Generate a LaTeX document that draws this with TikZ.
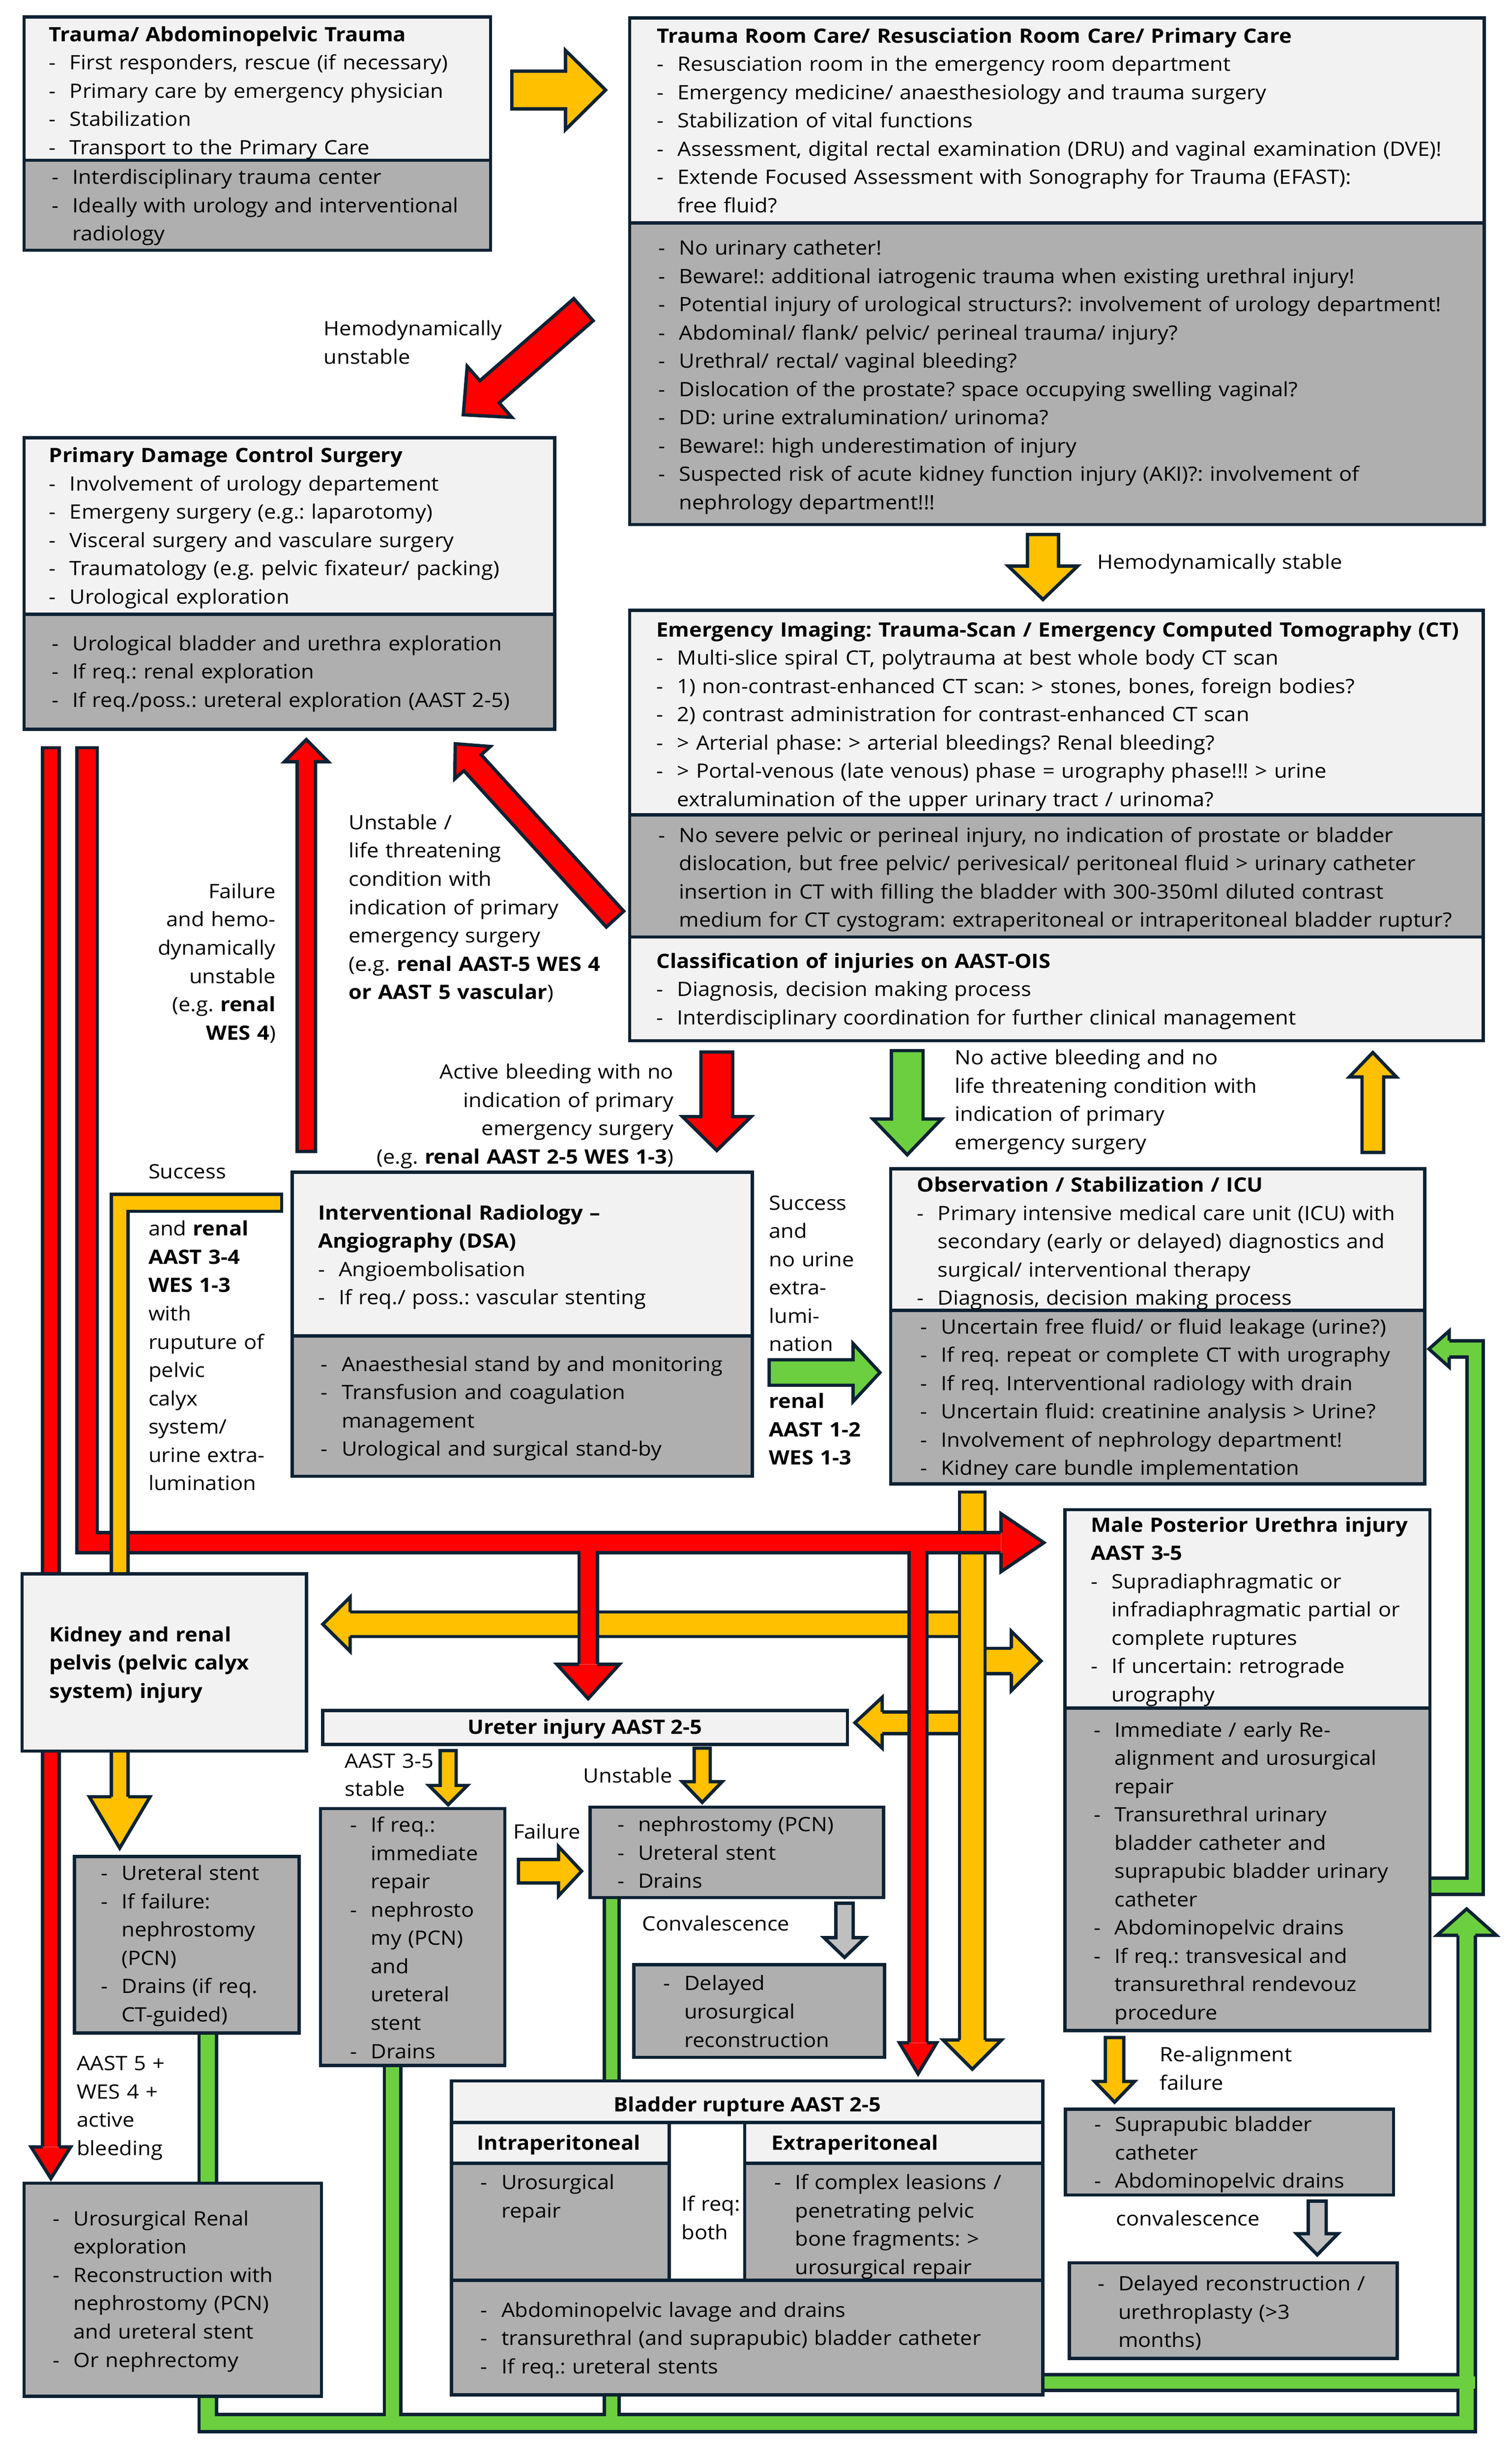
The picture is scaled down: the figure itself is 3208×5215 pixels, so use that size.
\documentclass[tikz,border=0pt]{standalone}
\usepackage{fontspec}
\setmainfont{Open Sans}[FakeStretch=1.08]
\usetikzlibrary{calc,fit}
\definecolor{nv}{HTML}{0D2233}
\definecolor{lg}{HTML}{F2F2F2}
\definecolor{dg}{HTML}{AFAFAF}
\definecolor{rd}{HTML}{FF0000}
\definecolor{yl}{HTML}{FFC000}
\definecolor{gn}{HTML}{6CCF3F}
\definecolor{ga}{HTML}{BFBFBF}
\newcommand\myfs{\fontsize{10.5}{15}\selectfont\frenchspacing}
\newcommand\Di[1]{\hangindent=11pt\hangafter=1\noindent\makebox[11pt][l]{-}#1\par}
\newcommand\Ti[1]{\textbf{#1}\par}
% block arrow: colour, tail, tip, half shaft, half head, head length
\newcommand\barrow[6]{%
  \coordinate (bH) at ($#3!#6!#2$);
  \filldraw[fill=#1,draw=nv,line width=1.75pt,line join=miter]
    ($#2!#4!90:#3$) -- ($(bH)!#4!90:#3$) -- ($(bH)!#5!90:#3$) -- #3
    -- ($(bH)!#5!-90:#3$) -- ($(bH)!#4!-90:#3$) -- ($#2!#4!-90:#3$) -- cycle;}
% arrow head on a pipe: colour, base, tip, half shaft, half head
\newcommand\ahead[5]{%
  \fill[#1] ($#2!#4!90:#3$) -- ($#2!#5!90:#3$) -- #3 -- ($#2!#5!-90:#3$) -- ($#2!#4!-90:#3$) -- cycle;
  \draw[nv,line width=1.75pt,line join=miter] ($#2!#4!90:#3$) -- ($#2!#5!90:#3$) -- #3 -- ($#2!#5!-90:#3$) -- ($#2!#4!-90:#3$);}
\tikzset{
  sec/.style={draw=nv,line width=1.75pt,inner sep=0pt,outer sep=0pt},
  lt/.style={sec,fill=lg}, dk/.style={sec,fill=dg}, wt/.style={sec,fill=white},
  tx/.style={anchor=base west,inner sep=0pt,outer sep=0pt,text width=#1,align=left,font=\myfs},
  tx/.default=330pt,
  tr/.style={anchor=base east,inner sep=0pt,outer sep=0pt,text width=#1,align=right,font=\myfs},
  tc/.style={anchor=base,inner sep=0pt,outer sep=0pt,font=\myfs\bfseries},
  blk/.style={draw=nv,line join=miter,line cap=butt},
  pcol/.style={draw=#1,line join=miter,line cap=butt},
}
\begin{document}
\begin{tikzpicture}[x=0.25pt,y=-0.25pt]
\fill[white] (0,0) rectangle (3208,5215);
\useasboundingbox (0,0) rectangle (3208,5215);
% ---------- named coordinates ----------
\coordinate (a1s) at (1086,191);  \coordinate (a1e) at (1285,191);
\coordinate (a2s) at (1238,657);  \coordinate (a2e) at (983,880);
\coordinate (a3s) at (2213,1134); \coordinate (a3e) at (2213,1272);
\coordinate (a4s) at (650,2443);  \coordinate (a4e) at (650,1569);
\coordinate (a5s) at (1305,1950); \coordinate (a5e) at (966,1578);
\coordinate (a6s) at (1521,2232); \coordinate (a6e) at (1521,2441);
\coordinate (a7s) at (1925,2229); \coordinate (a7e) at (1925,2450);
\coordinate (a8s) at (2913,2445); \coordinate (a8e) at (2913,2233);
\coordinate (a9s) at (1632,2912); \coordinate (a9e) at (1867,2912);
\coordinate (s1s) at (951,3714);  \coordinate (s1e) at (951,3829);
\coordinate (s2s) at (1490,3709); \coordinate (s2e) at (1490,3824);
\coordinate (s3s) at (1100,3970); \coordinate (s3e) at (1234,3970);
\coordinate (s4s) at (2365,4323); \coordinate (s4e) at (2365,4460);
\coordinate (c1s) at (1792,4038); \coordinate (c1e) at (1792,4153);
\coordinate (c2s) at (2795,4670); \coordinate (c2e) at (2795,4784);
\coordinate (yv0) at (2063,3169); \coordinate (yv1) at (2063,4328); \coordinate (yv2) at (2063,4390);
\coordinate (ya0) at (2063,3446); \coordinate (ya1) at (743,3446);  \coordinate (ya2) at (685,3446);
\coordinate (yb0) at (2063,3655); \coordinate (yb1) at (1872,3655); \coordinate (yb2) at (1814,3655);
\coordinate (yc0) at (2063,3524); \coordinate (yc1) at (2146,3524); \coordinate (yc2) at (2209,3524);
\coordinate (r0) at (185,1590);   \coordinate (r1) at (185,3273);   \coordinate (r2) at (2124,3273); \coordinate (r3) at (2215,3273);
\coordinate (ra0) at (1248,3273); \coordinate (ra1) at (1248,3531); \coordinate (ra2) at (1248,3604);
\coordinate (rb0) at (1948,3273); \coordinate (rb1) at (1948,4334); \coordinate (rb2) at (1948,4400);
\coordinate (rc0) at (108,1590);  \coordinate (rc1) at (108,4555);  \coordinate (rc2) at (108,4622);
\coordinate (yl0) at (594,2552);  \coordinate (yl1) at (254,2552);  \coordinate (yl2) at (254,3812); \coordinate (yl3) at (254,3921);
\coordinate (g0) at (441,4313);   \coordinate (g1) at (441,5141);   \coordinate (g2) at (3112,5141); \coordinate (g3) at (3112,4106); \coordinate (g4) at (3112,4050);
\coordinate (g5a) at (833,4382);  \coordinate (g5b) at (833,5141);
\coordinate (g6a) at (1298,4026); \coordinate (g6b) at (1298,5141);
\coordinate (g7a) at (2213,5055); \coordinate (g7b) at (3130,5055);
\coordinate (gl0) at (3034,4002); \coordinate (gl1) at (3130,4002); \coordinate (gl2) at (3130,2862); \coordinate (gl3) at (3075,2862); \coordinate (gl4) at (3032,2862);
% ---------- block arrows ----------
\barrow{yl}{(a1s)}{(a1e)}{10pt}{21pt}{21.25pt}
\barrow{rd}{(a2s)}{(a2e)}{7.8pt}{18pt}{18.5pt}
\barrow{yl}{(a3s)}{(a3e)}{8.25pt}{18.4pt}{17.75pt}
\barrow{rd}{(a4s)}{(a4e)}{4.9pt}{11.6pt}{11.75pt}
\barrow{rd}{(a5s)}{(a5e)}{6.25pt}{12.8pt}{13.6pt}
\barrow{rd}{(a6s)}{(a6e)}{8.4pt}{18.25pt}{18pt}
\barrow{gn}{(a7s)}{(a7e)}{8.4pt}{18.25pt}{19pt}
\barrow{yl}{(a8s)}{(a8e)}{5.75pt}{12.5pt}{13pt}
\barrow{gn}{(a9s)}{(a9e)}{6.75pt}{15.4pt}{14.25pt}
\barrow{yl}{(s1s)}{(s1e)}{4.25pt}{10.25pt}{10.25pt}
\barrow{yl}{(s2s)}{(s2e)}{4.25pt}{10.6pt}{11pt}
\barrow{yl}{(s3s)}{(s3e)}{6.25pt}{13.1pt}{12.25pt}
\barrow{yl}{(s4s)}{(s4e)}{4.9pt}{10.6pt}{11pt}
\barrow{ga}{(c1s)}{(c1e)}{4.6pt}{10.9pt}{10.5pt}
\barrow{ga}{(c2s)}{(c2e)}{4.75pt}{11pt}{11.25pt}
% ---------- yellow distribution pipes ----------
\draw[blk,line width=14.75pt] (ya0) -- (ya1);
\draw[pcol=yl,line width=11.25pt] (ya0) -- (ya1);
\ahead{yl}{(ya1)}{(ya2)}{6.5pt}{14.4pt}
\draw[blk,line width=13.25pt] (yb0) -- (yb1);
\draw[pcol=yl,line width=9.75pt] (yb0) -- (yb1);
\ahead{yl}{(yb1)}{(yb2)}{5.75pt}{13.5pt}
\draw[blk,line width=15.25pt] (yc0) -- (yc1);
\draw[pcol=yl,line width=11.75pt] (yc0) -- (yc1);
\ahead{yl}{(yc1)}{(yc2)}{6.75pt}{15.75pt}
\draw[blk,line width=15.25pt,shorten <=-1.75pt] (yv0) -- (yv1);
\draw[pcol=yl,line width=11.75pt] (yv0) -- (yv1);
\ahead{yl}{(yv1)}{(yv2)}{6.75pt}{15.5pt}
% ---------- red pipes ----------
\draw[blk,line width=12.5pt,shorten <=-1.75pt] (r0) -- (r1) -- (r2);
\draw[blk,line width=11.5pt] (ra0) -- (ra1);
\draw[blk,line width=11.25pt] (rb0) -- (rb1);
\draw[pcol=rd,line width=9pt] (r0) -- (r1) -- (r2);
\draw[pcol=rd,line width=8pt] (ra0) -- (ra1);
\draw[pcol=rd,line width=7.75pt] (rb0) -- (rb1);
\ahead{rd}{(r2)}{(r3)}{5.4pt}{15.4pt}
\ahead{rd}{(ra1)}{(ra2)}{4.9pt}{16.6pt}
\ahead{rd}{(rb1)}{(rb2)}{4.75pt}{9.9pt}
\draw[blk,line width=10.5pt,shorten <=-1.75pt] (rc0) -- (rc1);
\draw[pcol=rd,line width=7pt] (rc0) -- (rc1);
\ahead{rd}{(rc1)}{(rc2)}{4.4pt}{10.5pt}
% ---------- yellow L from interventional radiology ----------
\draw[blk,line width=10.75pt,shorten <=-1.75pt] (yl0) -- (yl1) -- (yl2);
\draw[pcol=yl,line width=7.25pt] (yl0) -- (yl1) -- (yl2);
\ahead{yl}{(yl2)}{(yl3)}{4.5pt}{16.1pt}
% ---------- green return pipes ----------
\draw[blk,line width=11pt] (g0) -- (g1) -- (g2) -- (g3);
\draw[blk,line width=10.5pt] (g5a) -- (g5b);
\draw[blk,line width=9.5pt] (g6a) -- (g6b);
\draw[blk,line width=10pt] (g7a) -- (g7b);
\draw[pcol=gn,line width=7.5pt] (g0) -- (g1) -- (g2) -- (g3);
\draw[pcol=gn,line width=7pt] (g5a) -- (g5b);
\draw[pcol=gn,line width=6pt] (g6a) -- (g6b);
\draw[pcol=gn,line width=6.5pt] (g7a) -- (g7b);
\ahead{gn}{(g3)}{(g4)}{4.6pt}{15.75pt}
\draw[blk,line width=10.5pt] (gl0) -- (gl1) -- (gl2) -- (gl3);
\draw[pcol=gn,line width=7pt] (gl0) -- (gl1) -- (gl2) -- (gl3);
\ahead{gn}{(gl3)}{(gl4)}{4.4pt}{9.6pt}
% ---------- boxes ----------
\node[lt,fit={(51,36) (1041,340)}] (b1a) {};
\node[dk,fit={(51,340) (1041,531)}] (b1b) {};
\node[lt,fit={(1336,38) (3149,473)}] (b2a) {};
\node[dk,fit={(1336,473) (3149,1113)}] (b2b) {};
\node[lt,fit={(51,929) (1177,1303)}] (b3a) {};
\node[dk,fit={(51,1303) (1177,1547)}] (b3b) {};
\node[lt,fit={(1336,1295) (3147,1729)}] (b4a) {};
\node[dk,fit={(1336,1729) (3147,1988)}] (b4b) {};
\node[lt,fit={(1336,1988) (3147,2208)}] (b4c) {};
\node[lt,fit={(620,2487) (1596,2834)}] (b5a) {};
\node[dk,fit={(620,2834) (1596,3132)}] (b5b) {};
\node[lt,fit={(1890,2480) (3023,2780)}] (b6a) {};
\node[dk,fit={(1890,2780) (3023,3148)}] (b6b) {};
\node[lt,fit={(47,3339) (650,3715)}] (b7) {};
\node[lt,fit={(685,3629) (1798,3701)}] (b8) {};
\node[dk,fit={(158,3939) (635,4313)}] (b9) {};
\node[dk,fit={(680,3837) (1071,4382)}] (b10) {};
\node[dk,fit={(1252,3834) (1875,4026)}] (b11) {};
\node[dk,fit={(1345,4168) (1877,4365)}] (b12) {};
\node[lt,fit={(2260,3203) (3034,3624)}] (b13a) {};
\node[dk,fit={(2260,3624) (3034,4308)}] (b13b) {};
\node[dk,fit={(2261,4475) (2957,4657)}] (b14) {};
\node[dk,fit={(2269,4801) (2965,5004)}] (b15) {};
\node[dk,fit={(51,4632) (682,5084)}] (b16) {};
\node[lt,fit={(958,4415) (2213,4503)}] (b17t) {};
\node[lt,fit={(958,4503) (1420,4590)}] (b17i) {};
\node[wt,fit={(1420,4503) (1580,4838)}] (b17m) {};
\node[lt,fit={(1580,4503) (2213,4590)}] (b17e) {};
\node[dk,fit={(958,4590) (1420,4838)}] (b17ig) {};
\node[dk,fit={(1580,4590) (2213,4838)}] (b17eg) {};
\node[dk,fit={(958,4838) (2213,5081)}] (b17b) {};
% ---------- box texts ----------
\node[tx] (t1a) at (104,88) {\Ti{Trauma/ Abdominopelvic Trauma}\Di{First responders, rescue (if necessary)}\Di{Primary care by emergency physician}\Di{Stabilization}\Di{Transport to the Primary Care}};
\node[tx] (t1b) at (110,391) {\Di{Interdisciplinary trauma center}\Di{Ideally with urology and interventional\newline radiology}};
\node[tx=440pt] (t2a) at (1394,91) {\Ti{Trauma Room Care/ Resusciation Room Care/ Primary Care}\Di{Resusciation room in the emergency room department}\Di{Emergency medicine/ anaesthesiology and trauma surgery}\Di{Stabilization of vital functions}\Di{Assessment, digital rectal examination (DRU) and vaginal examination (DVE)!}\Di{Extende Focused Assessment with Sonography for Trauma (EFAST):\newline free fluid?}};
\node[tx=440pt] (t2b) at (1397,541) {\Di{No urinary catheter!}\Di{Beware!: additional iatrogenic trauma when existing urethral injury!}\Di{Potential injury of urological structurs?: involvement of urology department!}\Di{Abdominal/ flank/ pelvic/ perineal trauma/ injury?}\Di{Urethral/ rectal/ vaginal bleeding?}\Di{Dislocation of the prostate? space occupying swelling vaginal?}\Di{DD: urine extralumination/ urinoma?}\Di{Beware!: high underestimation of injury}\Di{Suspected risk of acute kidney function injury (AKI)?: involvement of\newline nephrology department!!!}};
\node[tx] (t3a) at (104,981) {\Ti{Primary Damage Control Surgery}\Di{Involvement of urology departement}\Di{Emergeny surgery (e.g.: laparotomy)}\Di{Visceral surgery and vasculare surgery}\Di{Traumatology (e.g. pelvic fixateur/ packing)}\Di{Urological exploration}};
\node[tx] (t3b) at (110,1380) {\Di{Urological bladder and urethra exploration}\Di{If req.: renal exploration}\Di{If req./poss.: ureteral exploration (AAST 2-5)}};
\node[tx=440pt] (t4a) at (1393,1351) {\Ti{Emergency Imaging: Trauma-Scan / Emergency Computed Tomography (CT)}\Di{Multi-slice spiral CT, polytrauma at best whole body CT scan}\Di{1) non-contrast-enhanced CT scan: > stones, bones, foreign bodies?}\Di{2) contrast administration for contrast-enhanced CT scan}\Di{> Arterial phase: > arterial bleedings? Renal bleeding?}\Di{> Portal-venous (late venous) phase = urography phase!!! > urine\newline extralumination of the upper urinary tract / urinoma?}};
\node[tx=440pt] (t4b) at (1397,1787) {\Di{No severe pelvic or perineal injury, no indication of prostate or bladder\newline dislocation, but free pelvic/ perivesical/ peritoneal fluid > urinary catheter\newline insertion in CT with filling the bladder with 300-350ml diluted contrast\newline medium for CT cystogram: extraperitoneal or intraperitoneal bladder ruptur?}};
\node[tx=440pt] (t4c) at (1393,2054) {\Ti{Classification of injuries on AAST-OIS}\Di{Diagnosis, decision making process}\Di{Interdisciplinary coordination for further clinical management}};
\node[tx] (t5a) at (675,2588) {\Ti{Interventional Radiology –\newline Angiography (DSA)}\Di{Angioembolisation}\Di{If req./ poss.: vascular stenting}};
\node[tx] (t5b) at (681,2909) {\Di{Anaesthesial stand by and monitoring}\Di{Transfusion and coagulation\newline management}\Di{Urological and surgical stand-by}};
\node[tx] (t6a) at (1946,2529) {\Ti{Observation / Stabilization / ICU}\Di{Primary intensive medical care unit (ICU) with\newline secondary (early or delayed) diagnostics and\newline surgical/ interventional therapy}\Di{Diagnosis, decision making process}};
\node[tx] (t6b) at (1953,2830) {\Di{Uncertain free fluid/ or fluid leakage (urine?)}\Di{If req. repeat or complete CT with urography}\Di{If req. Interventional radiology with drain}\Di{Uncertain fluid: creatinine analysis > Urine?}\Di{Involvement of nephrology department!}\Di{Kidney care bundle implementation}};
\node[tx] (t7) at (105,3483) {\textbf{Kidney and renal\\pelvis (pelvic calyx\\system) injury}};
\node[tc] (t8) at (1241,3679) {Ureter injury AAST 2-5};
\node[tx] (t9) at (214,3989) {\Di{Ureteral stent}\Di{If failure:\newline nephrostomy\newline (PCN)}\Di{Drains (if req.\newline CT-guided)}};
\node[tx] (t10) at (743,3887) {\Di{If req.:\newline immediate\newline repair}\Di{nephrosto\newline my (PCN)\newline and\newline ureteral\newline stent}\Di{Drains}};
\node[tx] (t11) at (1310,3886) {\Di{nephrostomy (PCN)}\Di{Ureteral stent}\Di{Drains}};
\node[tx] (t12) at (1408,4223) {\Di{Delayed\newline urosurgical\newline reconstruction}};
\node[tx] (t13a) at (2315,3250) {\Ti{Male Posterior Urethra injury\newline AAST 3-5}\Di{Supradiaphragmatic or\newline infradiaphragmatic partial or\newline complete ruptures}\Di{If uncertain: retrograde\newline urography}};
\node[tx] (t13b) at (2321,3685) {\Di{Immediate / early Re-\newline alignment and urosurgical\newline repair}\Di{Transurethral urinary\newline bladder catheter and\newline suprapubic bladder urinary\newline catheter}\Di{Abdominopelvic drains}\Di{If req.: transvesical and\newline transurethral rendevouz\newline procedure}};
\node[tx] (t14) at (2322,4522) {\Di{Suprapubic bladder\newline catheter}\Di{Abdominopelvic drains}};
\node[tx] (t15) at (2329,4860) {\Di{Delayed reconstruction /\newline urethroplasty (>3\newline months)}};
\node[tx] (t16) at (112,4722) {\Di{Urosurgical Renal\newline exploration}\Di{Reconstruction with\newline nephrostomy (PCN)\newline and ureteral stent}\Di{Or nephrectomy}};
\node[tc] (t17) at (1586,4480) {Bladder rupture AAST 2-5};
\node[tx] (t17i) at (1012,4562) {\textbf{Intraperitoneal}};
\node[tx] (t17e) at (1637,4562) {\textbf{Extraperitoneal}};
\node[tx] (t17ig) at (1020,4645) {\Di{Urosurgical\newline repair}};
\node[tx] (t17m) at (1446,4691) {If req:\\both};
\node[tx] (t17eg) at (1643,4645) {\Di{If complex leasions /\newline penetrating pelvic\newline bone fragments: >\newline urosurgical repair}};
\node[tx] (t17b) at (1020,4916) {\Di{Abdominopelvic lavage and drains}\Di{transurethral (and suprapubic) bladder catheter}\Di{If req.: ureteral stents}};
% ---------- connector labels ----------
\node[tx] (l1) at (687,712) {Hemodynamically\\unstable};
\node[tx] (l2) at (2328,1207) {Hemodynamically stable};
\node[tr=100pt] (l3) at (585,1906) {Failure\\and hemo-\\dynamically\\unstable\\(e.g. \textbf{renal}\\\textbf{WES 4})};
\node[tx] (l4) at (740,1760) {Unstable /\\life threatening\\condition with\\indication of primary\\emergency surgery\\(e.g. \textbf{renal AAST-5 WES 4}\\\textbf{or AAST 5 vascular})};
\node[tr=200pt] (l5) at (1429,2289) {Active bleeding with no\\indication of primary\\emergency surgery\\(e.g. \textbf{renal AAST 2-5 WES 1-3})};
\node[tx] (l6) at (2026,2259) {No active bleeding and no\\life threatening condition with\\indication of primary\\emergency surgery};
\node[tx] (l7) at (315,2501) {Success};
\node[tx] (l8) at (315,2622) {and \textbf{renal}\\\textbf{AAST 3-4}\\\textbf{WES 1-3}\\with\\ruputure of\\pelvic\\calyx\\system/\\urine extra-\\lumination};
\node[tx] (l9) at (1632,2567) {Success\\and\\no urine\\extra-\\lumi-\\nation};
\node[tx] (l10) at (1632,2988) {\textbf{renal\\AAST 1-2\\WES 1-3}};
\node[tx] (l11) at (732,3751) {AAST 3-5\\stable};
\node[tx] (l12) at (1238,3782) {Unstable};
\node[tx] (l13) at (1089,3901) {Failure};
\node[tx] (l14) at (1363,4096) {Convalescence};
\node[tx] (l15) at (163,4393) {AAST 5 +\\WES 4 +\\active\\bleeding};
\node[tx] (l16) at (2461,4374) {Re-alignment\\failure};
\node[tx] (l17) at (2368,4722) {convalescence};
\end{tikzpicture}
\end{document}
